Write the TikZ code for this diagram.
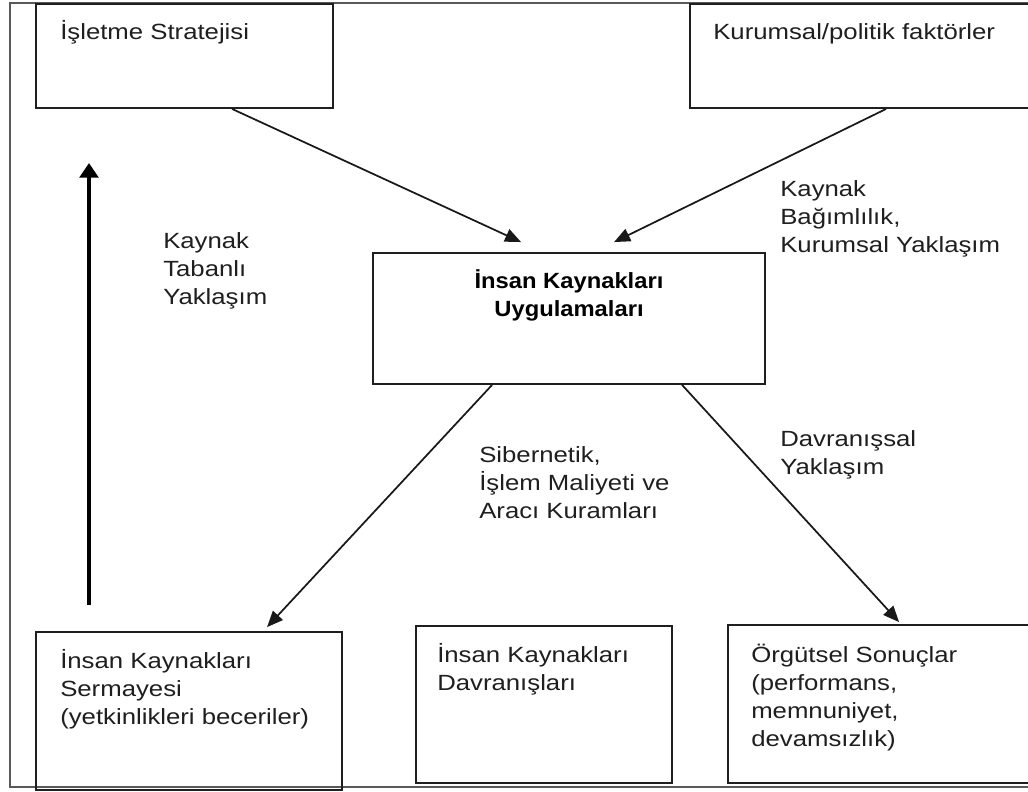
\documentclass[tikz,border=0pt]{standalone}
\usepackage{fontspec}
\setmainfont{Liberation Sans}[FakeStretch=1.17,BoldFeatures={FakeStretch=1.08}]
\usetikzlibrary{arrows.meta,calc,fit}
\begin{document}
\begin{tikzpicture}[x=0.75pt,y=-0.75pt,
  frameline/.style={draw=black!65,line width=2.2pt},
  box/.style={draw=black!88,line width=1.4pt,inner sep=0pt},
  txt/.style={anchor=base west,align=left,inner sep=0pt,text=black!88,
    font=\fontsize{16.5pt}{21pt}\selectfont},
  ctxt/.style={anchor=base,align=center,inner sep=0pt,text=black,
    font=\fontsize{16.5pt}{21pt}\selectfont\bfseries},
  arr/.style={draw=black!90,line width=1.3pt,-{Triangle[length=12pt,width=10pt]}},
  bigarr/.style={draw=black,line width=3.2pt,-{Triangle[length=11pt,width=14pt]}}]
\useasboundingbox[fill=white] (0,0) rectangle (1028,792);
% outer frame (right side runs past the picture)
\draw[frameline] (1040,3) -- (10,3) -- (10,787) -- (1040,787);
% boxes
\node[box,fit={(36,4) (333,108)}] (A) {};
\node[box,fit={(690,4) (1040,108)}] (B) {};
\node[box,fit={(373,253) (765,384)}] (C) {};
\node[box,fit={(36,632) (342,790)}] (D) {};
\node[box,fit={(416,626) (672,783)}] (E) {};
\node[box,fit={(728,625) (1040,783)}] (F) {};
% box texts (anchor = baseline of last line)
\node[txt] (tA) at (60,40) {İşletme Stratejisi};
\node[txt] (tB) at (713,40) {Kurumsal/politik faktörler};
\node[ctxt] (tC) at (569,316) {İnsan Kaynakları\\Uygulamaları};
\node[txt] (tD) at (60,724) {İnsan Kaynakları\\Sermayesi\\(yetkinlikleri beceriler)};
\node[txt] (tE) at (437,690) {İnsan Kaynakları\\Davranışları};
\node[txt] (tF) at (751,746) {Örgütsel Sonuçlar\\(performans,\\memnuniyet,\\devamsızlık)};
% labels
\node[txt] (l1) at (163,304) {Kaynak\\Tabanlı\\Yaklaşım};
\node[txt] (l2) at (780,252) {Kaynak\\Bağımlılık,\\Kurumsal Yaklaşım};
\node[txt] (l3) at (479,518) {Sibernetik,\\İşlem Maliyeti ve\\Aracı Kuramları};
\node[txt] (l4) at (780,474) {Davranışsal\\Yaklaşım};
% connectors
\draw[arr] ($(A.south west)+(197,0)$) -- ($(C.north west)+(149,-10)$);
\draw[arr] ($(B.south west)+(197,0)$) -- ($(C.north west)+(242,-10)$);
\draw[arr] ($(C.south west)+(120,0)$) -- ($(D.north west)+(232,-4)$);
\draw[arr] ($(C.south west)+(310,0)$) -- ($(F.north west)+(172,-2)$);
\coordinate (vb) at (89,605);
\coordinate (vt) at (89,163);
\draw[bigarr] (vb) -- (vt);
\end{tikzpicture}
\end{document}
